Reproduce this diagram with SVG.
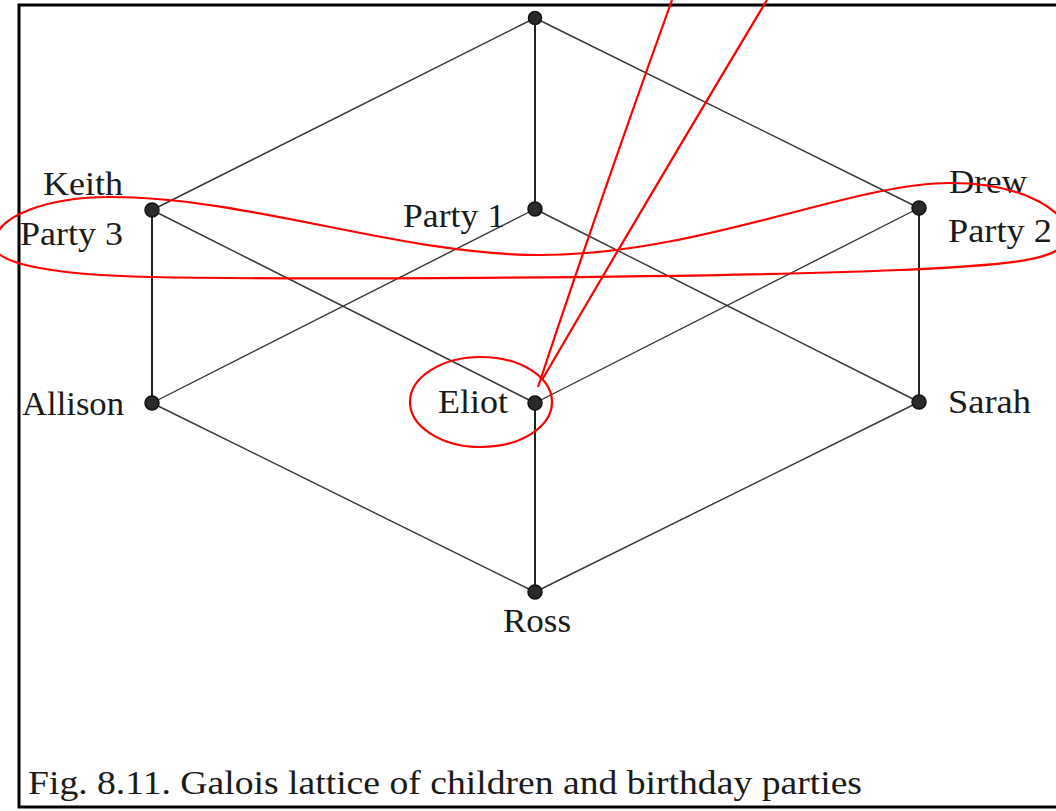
<svg xmlns="http://www.w3.org/2000/svg" width="1056" height="811" viewBox="0 0 1056 811">
<style>
.edge{stroke:#333;stroke-width:1.4;fill:none}
.vedge{stroke:#222;stroke-width:2;fill:none}
.node{fill:#2a2a2a;stroke:#111;stroke-width:1.5}
.lbl{font-family:"Liberation Serif","Times New Roman",serif;font-size:33px;fill:#1a1a1a}
.red{stroke:#ff0000;stroke-width:2.2;fill:none}
</style>
<rect x="0" y="0" width="1056" height="811" fill="#fff"/>
<rect id="frame" x="19" y="5" width="1050" height="802" fill="none" stroke="#000" stroke-width="3"/>
<g id="connectors">
<line class="edge" x1="535" y1="18" x2="152" y2="210"/>
<line class="vedge" x1="535" y1="18" x2="535" y2="209"/>
<line class="edge" x1="535" y1="18" x2="919" y2="208"/>
<line class="vedge" x1="152" y1="210" x2="152" y2="403"/>
<line class="edge" x1="152" y1="210" x2="535" y2="403"/>
<line class="edge" x1="535" y1="209" x2="152" y2="403"/>
<line class="edge" x1="535" y1="209" x2="919" y2="402"/>
<line class="edge" x1="919" y1="208" x2="535" y2="403"/>
<line class="vedge" x1="919" y1="208" x2="919" y2="402"/>
<line class="edge" x1="152" y1="403" x2="535" y2="592"/>
<line class="vedge" x1="535" y1="403" x2="535" y2="592"/>
<line class="edge" x1="919" y1="402" x2="535" y2="592"/>
</g>
<g id="n-top"><circle class="node" cx="535" cy="18" r="6.5"/></g>
<g id="n-keith"><circle class="node" cx="152" cy="210" r="7"/><text class="lbl" x="43" y="195" textLength="80" lengthAdjust="spacingAndGlyphs">Keith</text><text class="lbl" x="20" y="245" textLength="103" lengthAdjust="spacingAndGlyphs">Party 3</text></g>
<g id="n-party1"><circle class="node" cx="535" cy="209" r="7"/><text class="lbl" x="403" y="227" textLength="102" lengthAdjust="spacingAndGlyphs">Party 1</text></g>
<g id="n-drew"><circle class="node" cx="919" cy="208" r="7"/><text class="lbl" x="949" y="193" textLength="78" lengthAdjust="spacingAndGlyphs">Drew</text><text class="lbl" x="948" y="242" textLength="104" lengthAdjust="spacingAndGlyphs">Party 2</text></g>
<g id="n-allison"><circle class="node" cx="152" cy="403" r="7"/><text class="lbl" x="22" y="415" textLength="102" lengthAdjust="spacingAndGlyphs">Allison</text></g>
<g id="n-eliot"><circle class="node" cx="535" cy="403" r="7"/><text class="lbl" x="438" y="413" textLength="70" lengthAdjust="spacingAndGlyphs">Eliot</text></g>
<g id="n-sarah"><circle class="node" cx="919" cy="402" r="7"/><text class="lbl" x="948" y="413" textLength="83" lengthAdjust="spacingAndGlyphs">Sarah</text></g>
<g id="n-ross"><circle class="node" cx="535" cy="592" r="7"/><text class="lbl" x="503" y="632" textLength="68" lengthAdjust="spacingAndGlyphs">Ross</text></g>
<text id="caption" class="lbl" x="28" y="794" font-size="32" textLength="834" lengthAdjust="spacingAndGlyphs">Fig. 8.11. Galois lattice of children and birthday parties</text>
<g id="annotations">
<path class="red" d="M -6,245 C -6,215 50,197 110,197 C 250,197 400,255 540,255 C 700,255 850,183 950,183 C 1030,183 1068,215 1068,235 C 1068,262 1000,265 900,270 C 700,278 300,280 150,277 C 60,275 -6,265 -6,245 Z"/>
<ellipse class="red" cx="481" cy="402" rx="71" ry="45"/>
<path class="red" d="M 672,0 Q 600,200 538,387"/>
<path class="red" d="M 767,0 Q 650,195 542,380"/>
</g>
</svg>
